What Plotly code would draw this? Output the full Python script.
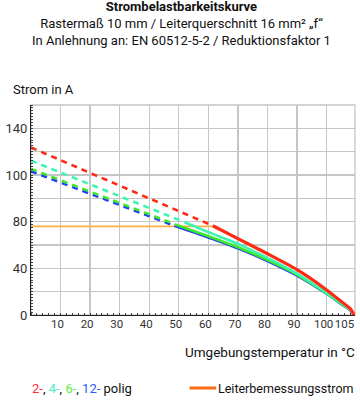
import plotly.graph_objects as go

# ---------------- data ----------------
# dashed (extrapolated) part: straight segments from 0 °C to transition
red_dash_x = [0, 61.5]
red_dash_y = [143.6, 76.5]
teal_dash_x = [0, 52]
teal_dash_y = [132.3, 79.5]
green_dash_x = [0, 49.5]
green_dash_y = [125.2, 77.0]
blue_dash_x = [0, 48.5]
blue_dash_y = [123.2, 76.5]

# solid part
red_x = [61.5, 70, 80, 90, 100, 105, 108, 109.3]
red_y = [76.5, 65.4, 52.5, 38.8, 21.5, 11.5, 5.5, 0]
teal_x = [52, 60, 70, 80, 90, 100, 105, 108, 109.3]
teal_y = [79.5, 71, 61, 49, 35.5, 19, 10, 4.5, 0]
green_x = [49.5, 60, 70, 80, 90, 100, 105, 108, 109.3]
green_y = [77, 67.5, 58, 47, 34.5, 18.5, 9.5, 4.2, 0]
blue_x = [48.5, 60, 70, 80, 90, 100, 105, 108, 109.3]
blue_y = [76.5, 66.5, 57.2, 46.3, 33.8, 18.2, 9.3, 4.0, 0]

rated_x = [0, 61.5]
rated_y = [76, 76]

x_grid_vals = [10, 20, 30, 40, 50, 60, 70, 80, 90, 100]
x_tick_vals = [10, 20, 30, 40, 50, 60, 70, 80, 90, 100]
x_tick_labels = ["10", "20", "30", "40", "50", "60", "70", "80", "90", "100"]
x_end_tick_vals = [105]
x_end_tick_labels = ["105"]
y_tick_vals = [0, 20, 40, 60, 80, 100, 120, 140, 160, 180]
y_tick_labels = ["0", "", "40", "", "80", "", "100", "", "140", ""]

# ---------------- styling ----------------
FONT = "Roboto, sans-serif"
W, H = 360, 400
ML, MR, MT, MB = 28, 5, 105, 85
PW, PH = W - ML - MR, H - MT - MB

def px(xp):
    return (xp - ML) / PW

def py(yp):
    return (H - MB - yp) / PH

C_RED = "#ff2a14"
C_TEAL = "#3cf5b0"
C_GREEN = "#3ce628"
C_BLUE = "#1e3cff"
C_ORANGE = "#ffb040"

fig = go.Figure()

fig.add_trace(go.Scatter(x=rated_x, y=rated_y, mode="lines",
                         line=dict(color=C_ORANGE, width=1.6), hoverinfo="skip"))

for dx, dy, sx, sy, col, w in [
    (blue_dash_x, blue_dash_y, blue_x, blue_y, C_BLUE, 2.6),
    (green_dash_x, green_dash_y, green_x, green_y, C_GREEN, 2.6),
    (teal_dash_x, teal_dash_y, teal_x, teal_y, C_TEAL, 2.6),
    (red_dash_x, red_dash_y, red_x, red_y, C_RED, 3.2),
]:
    fig.add_trace(go.Scatter(x=dx, y=dy, mode="lines",
                             line=dict(color=col, width=2.6, dash="6px,5px")))
    fig.add_trace(go.Scatter(x=sx, y=sy, mode="lines",
                             line=dict(color=col, width=w, shape="spline", smoothing=0.6)))

# invisible traces to carry the label axes
fig.add_trace(go.Scatter(x=[0], y=[0], xaxis="x2", mode="markers",
                         marker=dict(opacity=0), hoverinfo="skip"))
fig.add_trace(go.Scatter(x=[0], y=[0], xaxis="x3", mode="markers",
                         marker=dict(opacity=0), hoverinfo="skip"))

XR = [0, 109.6]
TICKFONT = dict(family=FONT, size=11.5, color="#333")
fig.update_layout(
    width=W, height=H,
    margin=dict(l=ML, r=MR, t=MT, b=MB),
    paper_bgcolor="white", plot_bgcolor="white",
    showlegend=False,
    font=dict(family=FONT, size=13, color="#222"),
    xaxis=dict(range=XR, tickvals=x_grid_vals, showticklabels=False,
               showgrid=True, gridcolor="#c6c6c6", gridwidth=1.3,
               showline=True, linecolor="#222", linewidth=1,
               ticks="", zeroline=False, fixedrange=True,
               minor=dict(dtick=2, ticks="inside", ticklen=2, tickcolor="#444",
                          showgrid=False)),
    xaxis2=dict(range=XR, overlaying="x", anchor="y", side="bottom",
                tickvals=x_tick_vals, ticktext=x_tick_labels, tickangle=0,
                ticklabelshift=-3,
                showgrid=False, zeroline=False, showline=False, ticks="",
                tickfont=TICKFONT, fixedrange=True),
    xaxis3=dict(range=XR, overlaying="x", anchor="y", side="bottom",
                tickvals=x_end_tick_vals, ticktext=x_end_tick_labels, tickangle=0,
                ticklabelshift=3,
                showgrid=False, zeroline=False, showline=False, ticks="",
                tickfont=TICKFONT, fixedrange=True),
    yaxis=dict(range=[0, 180], tickvals=y_tick_vals, ticktext=y_tick_labels,
               showgrid=True, gridcolor="#c6c6c6", gridwidth=1.3,
               showline=True, linecolor="#222", linewidth=1,
               ticks="", zeroline=False, fixedrange=True,
               tickfont=dict(family=FONT, size=13, color="#333"),
               minor=dict(dtick=2.5, ticks="inside", ticklen=2, tickcolor="#444",
                          showgrid=False)),
)

fig.add_shape(type="rect", xref="paper", yref="paper", x0=0, x1=1, y0=0, y1=1,
              line=dict(color="#c6c6c6", width=1.3), layer="below")

# title
fig.add_annotation(xref="paper", yref="paper", x=px(180), y=py(-3), yanchor="top",
                   xanchor="center", showarrow=False, align="center",
                   text="<b>Strombelastbarkeitskurve</b><br>"
                        "Rastermaß 10 mm / Leiterquerschnitt 16 mm² „f“<br>"
                        "In Anlehnung an: EN 60512-5-2 / Reduktionsfaktor 1",
                   font=dict(family=FONT, size=13, color="#111"))

fig.add_annotation(xref="paper", yref="paper", x=px(8), y=py(89), xanchor="left",
                   yanchor="middle", showarrow=False, text="Strom in A",
                   font=dict(family=FONT, size=13, color="#111"))

fig.add_annotation(xref="paper", yref="paper", x=px(357), y=py(352), xanchor="right",
                   yanchor="middle", showarrow=False, text="Umgebungstemperatur in °C",
                   font=dict(family=FONT, size=13.5, color="#111"))

fig.add_annotation(xref="paper", yref="paper", x=px(27), y=py(388), xanchor="left",
                   yanchor="middle", showarrow=False,
                   text=f"<span style='color:#ff2a3a'>2-</span>, "
                        f"<span style='color:#50e8c8'>4-</span>, "
                        f"<span style='color:#5cf03c'>6-</span>, "
                        f"<span style='color:#2a5cff'>12-</span> polig",
                   font=dict(family=FONT, size=13, color="#111"))

fig.add_shape(type="line", xref="paper", yref="paper", x0=px(188), x1=px(215),
              y0=py(388), y1=py(388), line=dict(color="#ff6a14", width=3))

fig.add_annotation(xref="paper", yref="paper", x=px(356), y=py(388), xanchor="right",
                   yanchor="middle", showarrow=False, text="Leiterbemessungsstrom",
                   font=dict(family=FONT, size=12.5, color="#111"))

fig.write_html("out.html", config={"displayModeBar": False, "staticPlot": True},
               post_script="document.body.style.margin='0';document.body.style.overflow='hidden';")
